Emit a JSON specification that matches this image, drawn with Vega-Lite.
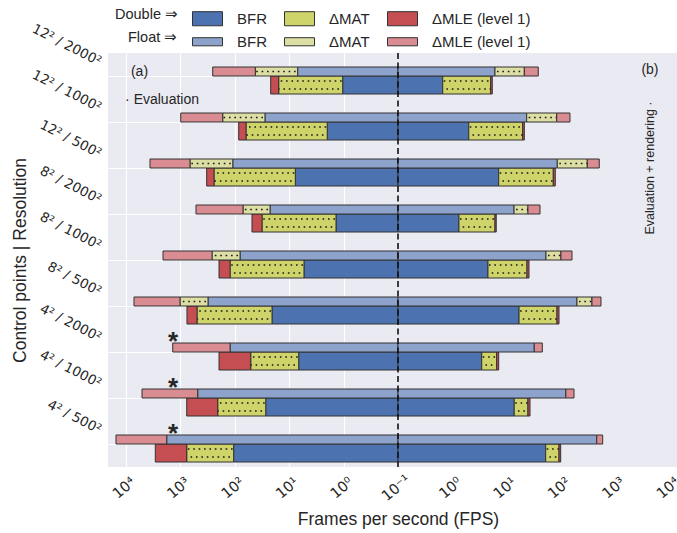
{
 "$schema": "https://vega.github.io/schema/vega-lite/v6.json",
 "autosize": {"type": "none"},
 "padding": {"left": 108, "top": 53, "right": 0, "bottom": 66},
 "background": "white",
 "width": 569,
 "height": 414,
 "config": {
  "view": {"fill": "#EAEAF2", "stroke": null},
  "font": "Liberation Sans",
  "axis": {"domain": false, "ticks": false, "grid": true, "gridColor": "#ffffff", "gridWidth": 1.1, "labelColor": "#262626", "titleColor": "#262626", "titleFontWeight": "normal"},
  "legend": {"symbolStrokeColor": "#333333", "symbolStrokeWidth": 1, "symbolOpacity": 1, "labelFont": "Liberation Sans", "labelFontSize": 15, "labelColor": "#262626", "titleFont": "Liberation Sans", "titleFontSize": 14.5, "titleFontWeight": "normal", "titleColor": "#262626", "orient": "none", "direction": "horizontal", "columns": 3, "titleOrient": "left", "titleBaseline": "middle", "labelOffset": 14, "columnPadding": 15, "titlePadding": 14, "symbolSize": 900}
 },
 "datasets": {
  "stars": [
   {"c": "4² / 2000²", "fps": 1370},
   {"c": "4² / 1000²", "fps": 1370},
   {"c": "4² / 500²", "fps": 1370}
  ],
  "bars": [
   {"c": "12² / 2000²", "p": "F", "s": "L", "part": "BFR", "lo": 0.1, "hi": 7.0},
   {"c": "12² / 2000²", "p": "F", "s": "L", "part": "ΔMAT", "lo": 7.0, "hi": 42},
   {"c": "12² / 2000²", "p": "F", "s": "L", "part": "ΔMLE (level 1)", "lo": 42, "hi": 255},
   {"c": "12² / 2000²", "p": "D", "s": "L", "part": "BFR", "lo": 0.1, "hi": 1.04},
   {"c": "12² / 2000²", "p": "D", "s": "L", "part": "ΔMAT", "lo": 1.04, "hi": 15.6},
   {"c": "12² / 2000²", "p": "D", "s": "L", "part": "ΔMLE (level 1)", "lo": 15.6, "hi": 21.9},
   {"c": "12² / 2000²", "p": "F", "s": "R", "part": "BFR", "lo": 0.1, "hi": 6.07},
   {"c": "12² / 2000²", "p": "F", "s": "R", "part": "ΔMAT", "lo": 6.07, "hi": 21.0},
   {"c": "12² / 2000²", "p": "F", "s": "R", "part": "ΔMLE (level 1)", "lo": 21.0, "hi": 37.9},
   {"c": "12² / 2000²", "p": "D", "s": "R", "part": "BFR", "lo": 0.1, "hi": 0.664},
   {"c": "12² / 2000²", "p": "D", "s": "R", "part": "ΔMAT", "lo": 0.664, "hi": 5.06},
   {"c": "12² / 2000²", "p": "D", "s": "R", "part": "ΔMLE (level 1)", "lo": 5.06, "hi": 5.41},

   {"c": "12² / 1000²", "p": "F", "s": "L", "part": "BFR", "lo": 0.1, "hi": 27.9},
   {"c": "12² / 1000²", "p": "F", "s": "L", "part": "ΔMAT", "lo": 27.9, "hi": 167},
   {"c": "12² / 1000²", "p": "F", "s": "L", "part": "ΔMLE (level 1)", "lo": 167, "hi": 986},
   {"c": "12² / 1000²", "p": "D", "s": "L", "part": "BFR", "lo": 0.1, "hi": 2.0},
   {"c": "12² / 1000²", "p": "D", "s": "L", "part": "ΔMAT", "lo": 2.0, "hi": 62.2},
   {"c": "12² / 1000²", "p": "D", "s": "L", "part": "ΔMLE (level 1)", "lo": 62.2, "hi": 84.8},
   {"c": "12² / 1000²", "p": "F", "s": "R", "part": "BFR", "lo": 0.1, "hi": 23.2},
   {"c": "12² / 1000²", "p": "F", "s": "R", "part": "ΔMAT", "lo": 23.2, "hi": 82.6},
   {"c": "12² / 1000²", "p": "F", "s": "R", "part": "ΔMLE (level 1)", "lo": 82.6, "hi": 145},
   {"c": "12² / 1000²", "p": "D", "s": "R", "part": "BFR", "lo": 0.1, "hi": 2.0},
   {"c": "12² / 1000²", "p": "D", "s": "R", "part": "ΔMAT", "lo": 2.0, "hi": 19.6},
   {"c": "12² / 1000²", "p": "D", "s": "R", "part": "ΔMLE (level 1)", "lo": 19.6, "hi": 21.0},

   {"c": "12² / 500²", "p": "F", "s": "L", "part": "BFR", "lo": 0.1, "hi": 109},
   {"c": "12² / 500²", "p": "F", "s": "L", "part": "ΔMAT", "lo": 109, "hi": 666},
   {"c": "12² / 500²", "p": "F", "s": "L", "part": "ΔMLE (level 1)", "lo": 666, "hi": 3622},
   {"c": "12² / 500²", "p": "D", "s": "L", "part": "BFR", "lo": 0.1, "hi": 7.72},
   {"c": "12² / 500²", "p": "D", "s": "L", "part": "ΔMAT", "lo": 7.72, "hi": 241},
   {"c": "12² / 500²", "p": "D", "s": "L", "part": "ΔMLE (level 1)", "lo": 241, "hi": 329},
   {"c": "12² / 500²", "p": "F", "s": "R", "part": "BFR", "lo": 0.1, "hi": 84.8},
   {"c": "12² / 500²", "p": "F", "s": "R", "part": "ΔMAT", "lo": 84.8, "hi": 302},
   {"c": "12² / 500²", "p": "F", "s": "R", "part": "ΔMLE (level 1)", "lo": 302, "hi": 501},
   {"c": "12² / 500²", "p": "D", "s": "R", "part": "BFR", "lo": 0.1, "hi": 7.1},
   {"c": "12² / 500²", "p": "D", "s": "R", "part": "ΔMAT", "lo": 7.1, "hi": 71.6},
   {"c": "12² / 500²", "p": "D", "s": "R", "part": "ΔMLE (level 1)", "lo": 71.6, "hi": 77.9},

   {"c": "8² / 2000²", "p": "F", "s": "L", "part": "BFR", "lo": 0.1, "hi": 22.5},
   {"c": "8² / 2000²", "p": "F", "s": "L", "part": "ΔMAT", "lo": 22.5, "hi": 70.7},
   {"c": "8² / 2000²", "p": "F", "s": "L", "part": "ΔMLE (level 1)", "lo": 70.7, "hi": 517},
   {"c": "8² / 2000²", "p": "D", "s": "L", "part": "BFR", "lo": 0.1, "hi": 1.38},
   {"c": "8² / 2000²", "p": "D", "s": "L", "part": "ΔMAT", "lo": 1.38, "hi": 31.6},
   {"c": "8² / 2000²", "p": "D", "s": "L", "part": "ΔMLE (level 1)", "lo": 31.6, "hi": 48.3},
   {"c": "8² / 2000²", "p": "F", "s": "R", "part": "BFR", "lo": 0.1, "hi": 13.6},
   {"c": "8² / 2000²", "p": "F", "s": "R", "part": "ΔMAT", "lo": 13.6, "hi": 24.5},
   {"c": "8² / 2000²", "p": "F", "s": "R", "part": "ΔMLE (level 1)", "lo": 24.5, "hi": 40.8},
   {"c": "8² / 2000²", "p": "D", "s": "R", "part": "BFR", "lo": 0.1, "hi": 1.32},
   {"c": "8² / 2000²", "p": "D", "s": "R", "part": "ΔMAT", "lo": 1.32, "hi": 6.07},
   {"c": "8² / 2000²", "p": "D", "s": "R", "part": "ΔMLE (level 1)", "lo": 6.07, "hi": 6.4},

   {"c": "8² / 1000²", "p": "F", "s": "L", "part": "BFR", "lo": 0.1, "hi": 80.2},
   {"c": "8² / 1000²", "p": "F", "s": "L", "part": "ΔMAT", "lo": 80.2, "hi": 262},
   {"c": "8² / 1000²", "p": "F", "s": "L", "part": "ΔMLE (level 1)", "lo": 262, "hi": 2089},
   {"c": "8² / 1000²", "p": "D", "s": "L", "part": "BFR", "lo": 0.1, "hi": 5.35},
   {"c": "8² / 1000²", "p": "D", "s": "L", "part": "ΔMAT", "lo": 5.35, "hi": 122},
   {"c": "8² / 1000²", "p": "D", "s": "L", "part": "ΔMLE (level 1)", "lo": 122, "hi": 195},
   {"c": "8² / 1000²", "p": "F", "s": "R", "part": "BFR", "lo": 0.1, "hi": 52.6},
   {"c": "8² / 1000²", "p": "F", "s": "R", "part": "ΔMAT", "lo": 52.6, "hi": 99},
   {"c": "8² / 1000²", "p": "F", "s": "R", "part": "ΔMLE (level 1)", "lo": 99, "hi": 158},
   {"c": "8² / 1000²", "p": "D", "s": "R", "part": "BFR", "lo": 0.1, "hi": 4.51},
   {"c": "8² / 1000²", "p": "D", "s": "R", "part": "ΔMAT", "lo": 4.51, "hi": 23.5},
   {"c": "8² / 1000²", "p": "D", "s": "R", "part": "ΔMLE (level 1)", "lo": 23.5, "hi": 25.6},

   {"c": "8² / 500²", "p": "F", "s": "L", "part": "BFR", "lo": 0.1, "hi": 311},
   {"c": "8² / 500²", "p": "F", "s": "L", "part": "ΔMAT", "lo": 311, "hi": 1017},
   {"c": "8² / 500²", "p": "F", "s": "L", "part": "ΔMLE (level 1)", "lo": 1017, "hi": 7130},
   {"c": "8² / 500²", "p": "D", "s": "L", "part": "BFR", "lo": 0.1, "hi": 20.7},
   {"c": "8² / 500²", "p": "D", "s": "L", "part": "ΔMAT", "lo": 20.7, "hi": 495},
   {"c": "8² / 500²", "p": "D", "s": "L", "part": "ΔMLE (level 1)", "lo": 495, "hi": 757},
   {"c": "8² / 500²", "p": "F", "s": "R", "part": "BFR", "lo": 0.1, "hi": 195},
   {"c": "8² / 500²", "p": "F", "s": "R", "part": "ΔMAT", "lo": 195, "hi": 368},
   {"c": "8² / 500²", "p": "F", "s": "R", "part": "ΔMLE (level 1)", "lo": 368, "hi": 539},
   {"c": "8² / 500²", "p": "D", "s": "R", "part": "BFR", "lo": 0.1, "hi": 16.8},
   {"c": "8² / 500²", "p": "D", "s": "R", "part": "ΔMAT", "lo": 16.8, "hi": 83.7},
   {"c": "8² / 500²", "p": "D", "s": "R", "part": "ΔMLE (level 1)", "lo": 83.7, "hi": 91.2},

   {"c": "4² / 2000²", "p": "F", "s": "L", "part": "BFR", "lo": 0.1, "hi": 122},
   {"c": "4² / 2000²", "p": "F", "s": "L", "part": "ΔMLE (level 1)", "lo": 122, "hi": 1386},
   {"c": "4² / 2000²", "p": "D", "s": "L", "part": "BFR", "lo": 0.1, "hi": 6.69},
   {"c": "4² / 2000²", "p": "D", "s": "L", "part": "ΔMAT", "lo": 6.69, "hi": 51},
   {"c": "4² / 2000²", "p": "D", "s": "L", "part": "ΔMLE (level 1)", "lo": 51, "hi": 195},
   {"c": "4² / 2000²", "p": "F", "s": "R", "part": "BFR", "lo": 0.1, "hi": 32.0},
   {"c": "4² / 2000²", "p": "F", "s": "R", "part": "ΔMLE (level 1)", "lo": 32.0, "hi": 45.0},
   {"c": "4² / 2000²", "p": "D", "s": "R", "part": "BFR", "lo": 0.1, "hi": 3.46},
   {"c": "4² / 2000²", "p": "D", "s": "R", "part": "ΔMAT", "lo": 3.46, "hi": 6.52},
   {"c": "4² / 2000²", "p": "D", "s": "R", "part": "ΔMLE (level 1)", "lo": 6.52, "hi": 7.1},

   {"c": "4² / 1000²", "p": "F", "s": "L", "part": "BFR", "lo": 0.1, "hi": 481},
   {"c": "4² / 1000²", "p": "F", "s": "L", "part": "ΔMLE (level 1)", "lo": 481, "hi": 5080},
   {"c": "4² / 1000²", "p": "D", "s": "L", "part": "BFR", "lo": 0.1, "hi": 27},
   {"c": "4² / 1000²", "p": "D", "s": "L", "part": "ΔMAT", "lo": 27, "hi": 206},
   {"c": "4² / 1000²", "p": "D", "s": "L", "part": "ΔMLE (level 1)", "lo": 206, "hi": 766},
   {"c": "4² / 1000²", "p": "F", "s": "R", "part": "BFR", "lo": 0.1, "hi": 122},
   {"c": "4² / 1000²", "p": "F", "s": "R", "part": "ΔMLE (level 1)", "lo": 122, "hi": 172},
   {"c": "4² / 1000²", "p": "D", "s": "R", "part": "BFR", "lo": 0.1, "hi": 13.7},
   {"c": "4² / 1000²", "p": "D", "s": "R", "part": "ΔMAT", "lo": 13.7, "hi": 24.5},
   {"c": "4² / 1000²", "p": "D", "s": "R", "part": "ΔMLE (level 1)", "lo": 24.5, "hi": 26.7},

   {"c": "4² / 500²", "p": "F", "s": "L", "part": "BFR", "lo": 0.1, "hi": 1786},
   {"c": "4² / 500²", "p": "F", "s": "L", "part": "ΔMLE (level 1)", "lo": 1786, "hi": 15280},
   {"c": "4² / 500²", "p": "D", "s": "L", "part": "BFR", "lo": 0.1, "hi": 105},
   {"c": "4² / 500²", "p": "D", "s": "L", "part": "ΔMAT", "lo": 105, "hi": 766},
   {"c": "4² / 500²", "p": "D", "s": "L", "part": "ΔMLE (level 1)", "lo": 766, "hi": 2893},
   {"c": "4² / 500²", "p": "F", "s": "R", "part": "BFR", "lo": 0.1, "hi": 450},
   {"c": "4² / 500²", "p": "F", "s": "R", "part": "ΔMLE (level 1)", "lo": 450, "hi": 579},
   {"c": "4² / 500²", "p": "D", "s": "R", "part": "BFR", "lo": 0.1, "hi": 51.9},
   {"c": "4² / 500²", "p": "D", "s": "R", "part": "ΔMAT", "lo": 51.9, "hi": 91.2},
   {"c": "4² / 500²", "p": "D", "s": "R", "part": "ΔMLE (level 1)", "lo": 91.2, "hi": 97.9}
  ]
 },
 "resolve": {"scale": {"x": "independent"}, "axis": {"x": "independent"}},
 "layer": [
  {
   "layer": [
    {
     "data": {"name": "bars"},
     "transform": [{"filter": "datum.s == 'L' && datum.p == 'D'"}],
     "mark": {"type": "bar", "size": 18, "yOffset": 9, "stroke": "#333333", "strokeWidth": 1},
     "encoding": {
      "x": {"field": "lo", "type": "quantitative",
       "scale": {"type": "log", "domain": [0.1, 21430], "range": [290, 0], "nice": false},
       "axis": {"orient": "bottom", "values": [1, 10, 100, 1000, 10000],
        "labelExpr": "datum.value >= 9999 ? '10⁴' : datum.value >= 999 ? '10³' : datum.value >= 99 ? '10²' : datum.value >= 9 ? '10¹' : datum.value >= 0.9 ? '10⁰' : '10⁻¹'",
        "labelAngle": -40, "labelAlign": "center", "labelBaseline": "middle", "labelPadding": 21, "labelOffset": -2,
        "labelFont": "DejaVu Sans", "labelFontSize": 14.5, "labelFlush": false, "labelOverlap": false, "labelBound": false,
        "title": "Frames per second (FPS)", "titleFont": "Liberation Sans", "titleFontSize": 17.5,
        "titleX": 290, "titleY": 52, "titleAlign": "center", "titleBaseline": "middle", "titleAngle": 0}},
      "x2": {"field": "hi"},
      "y": {"field": "c", "type": "nominal",
       "scale": {"domain": ["12² / 2000²", "12² / 1000²", "12² / 500²", "8² / 2000²", "8² / 1000²", "8² / 500²", "4² / 2000²", "4² / 1000²", "4² / 500²"], "paddingInner": 0, "paddingOuter": 0},
       "axis": {"bandPosition": 0.5, "labelAngle": 27, "labelAlign": "right", "labelBaseline": "alphabetic", "labelOffset": -10, "labelPadding": 10,
        "labelFont": "DejaVu Sans", "labelFontSize": 13.5,
        "title": "Control points | Resolution", "titleFont": "Liberation Sans", "titleFontSize": 17.5,
        "titleX": -88, "titleY": 207, "titleAngle": -90, "titleAlign": "center", "titleBaseline": "middle"}},
      "fill": {"field": "part", "type": "nominal",
       "scale": {"domain": ["BFR", "ΔMAT", "ΔMLE (level 1)"], "range": ["#4C72B0", "#CFD46A", "#C44E52"]},
       "legend": {"title": "Double ⇒", "legendX": 7, "legendY": -50, "symbolType": "M-1,-0.47L1,-0.47L1,0.47L-1,0.47Z"}}
     }
    },
    {
     "data": {"name": "bars"},
     "transform": [{"filter": "datum.s == 'L' && datum.p == 'F'"}],
     "mark": {"type": "bar", "size": 9, "yOffset": -4.5, "stroke": "#333333", "strokeWidth": 1},
     "encoding": {
      "x": {"field": "lo", "type": "quantitative"},
      "x2": {"field": "hi"},
      "y": {"field": "c", "type": "nominal"},
      "color": {"field": "part", "type": "nominal",
       "scale": {"range": ["#8DA3CB", "#DCDEA3", "#D98C92"]},
       "legend": {"title": "Float ⇒", "legendX": 20, "legendY": -27, "symbolType": "M-1,-0.27L1,-0.27L1,0.27L-1,0.27Z"}}
     }
    },
    {
     "data": {"name": "bars"},
     "transform": [{"filter": "datum.s == 'L' && datum.p == 'D' && datum.part == 'ΔMAT'"}],
     "mark": {"type": "rule", "yOffset": 5, "strokeDash": [1.6, 3.8], "strokeDashOffset": 4.4, "strokeWidth": 1.6, "color": "#1a1a1a"},
     "encoding": {"x": {"field": "lo", "type": "quantitative"}, "x2": {"field": "hi"}, "y": {"field": "c", "type": "nominal"}}
    },
    {
     "data": {"name": "bars"},
     "transform": [{"filter": "datum.s == 'L' && datum.p == 'D' && datum.part == 'ΔMAT'"}],
     "mark": {"type": "rule", "yOffset": 13, "strokeDash": [1.6, 3.8], "strokeDashOffset": 1.7, "strokeWidth": 1.6, "color": "#1a1a1a"},
     "encoding": {"x": {"field": "lo", "type": "quantitative"}, "x2": {"field": "hi"}, "y": {"field": "c", "type": "nominal"}}
    },
    {
     "data": {"name": "bars"},
     "transform": [{"filter": "datum.s == 'L' && datum.p == 'F' && datum.part == 'ΔMAT'"}],
     "mark": {"type": "rule", "yOffset": -4.5, "strokeDash": [1.6, 3.8], "strokeDashOffset": 3.4, "strokeWidth": 1.6, "color": "#1a1a1a"},
     "encoding": {"x": {"field": "lo", "type": "quantitative"}, "x2": {"field": "hi"}, "y": {"field": "c", "type": "nominal"}}
    },
    {
     "data": {"name": "stars"},
     "mark": {"type": "text", "text": "*", "fontSize": 26, "fontWeight": "bold", "baseline": "alphabetic", "align": "center", "dy": -2, "color": "#262626", "font": "Liberation Sans"},
     "encoding": {"x": {"field": "fps", "type": "quantitative"}, "y": {"field": "c", "type": "nominal"}}
    },
    {
     "data": {"values": [{}]},
     "mark": {"type": "text", "text": "(a)", "fontSize": 14, "align": "center", "baseline": "middle", "dy": -4, "color": "#262626", "font": "Liberation Sans"},
     "encoding": {"x": {"datum": 5650, "type": "quantitative"}, "y": {"datum": "12² / 2000²", "type": "nominal"}}
    },
    {
     "data": {"values": [{}]},
     "mark": {"type": "text", "text": "· Evaluation", "fontSize": 14, "align": "left", "baseline": "middle", "dy": 24, "color": "#262626", "font": "Liberation Sans"},
     "encoding": {"x": {"datum": 10400, "type": "quantitative"}, "y": {"datum": "12² / 2000²", "type": "nominal"}}
    }
   ]
  },
  {
   "layer": [
    {
     "data": {"name": "bars"},
     "transform": [{"filter": "datum.s == 'R' && datum.p == 'D'"}],
     "mark": {"type": "bar", "size": 18, "yOffset": 9, "stroke": "#333333", "strokeWidth": 1},
     "encoding": {
      "x": {"field": "lo", "type": "quantitative",
       "scale": {"type": "log", "domain": [0.1, 13460], "range": [290, 569], "nice": false},
       "axis": {"orient": "bottom", "values": [0.1, 1, 10, 100, 1000, 10000],
        "labelExpr": "datum.value >= 9999 ? '10⁴' : datum.value >= 999 ? '10³' : datum.value >= 99 ? '10²' : datum.value >= 9 ? '10¹' : datum.value >= 0.9 ? '10⁰' : '10⁻¹'",
        "labelAngle": -40, "labelAlign": "center", "labelBaseline": "middle", "labelPadding": 21, "labelOffset": -2,
        "labelFont": "DejaVu Sans", "labelFontSize": 14.5, "labelFlush": false, "labelOverlap": false, "labelBound": false,
        "title": null}},
      "x2": {"field": "hi"},
      "y": {"field": "c", "type": "nominal"},
      "fill": {"field": "part", "type": "nominal"}
     }
    },
    {
     "data": {"name": "bars"},
     "transform": [{"filter": "datum.s == 'R' && datum.p == 'F'"}],
     "mark": {"type": "bar", "size": 9, "yOffset": -4.5, "stroke": "#333333", "strokeWidth": 1},
     "encoding": {
      "x": {"field": "lo", "type": "quantitative"},
      "x2": {"field": "hi"},
      "y": {"field": "c", "type": "nominal"},
      "color": {"field": "part", "type": "nominal"}
     }
    },
    {
     "data": {"name": "bars"},
     "transform": [{"filter": "datum.s == 'R' && datum.p == 'D' && datum.part == 'ΔMAT'"}],
     "mark": {"type": "rule", "yOffset": 5, "strokeDash": [1.6, 3.8], "strokeDashOffset": 4.4, "strokeWidth": 1.6, "color": "#1a1a1a"},
     "encoding": {"x": {"field": "lo", "type": "quantitative"}, "x2": {"field": "hi"}, "y": {"field": "c", "type": "nominal"}}
    },
    {
     "data": {"name": "bars"},
     "transform": [{"filter": "datum.s == 'R' && datum.p == 'D' && datum.part == 'ΔMAT'"}],
     "mark": {"type": "rule", "yOffset": 13, "strokeDash": [1.6, 3.8], "strokeDashOffset": 1.7, "strokeWidth": 1.6, "color": "#1a1a1a"},
     "encoding": {"x": {"field": "lo", "type": "quantitative"}, "x2": {"field": "hi"}, "y": {"field": "c", "type": "nominal"}}
    },
    {
     "data": {"name": "bars"},
     "transform": [{"filter": "datum.s == 'R' && datum.p == 'F' && datum.part == 'ΔMAT'"}],
     "mark": {"type": "rule", "yOffset": -4.5, "strokeDash": [1.6, 3.8], "strokeDashOffset": 3.4, "strokeWidth": 1.6, "color": "#1a1a1a"},
     "encoding": {"x": {"field": "lo", "type": "quantitative"}, "x2": {"field": "hi"}, "y": {"field": "c", "type": "nominal"}}
    },
    {
     "data": {"values": [{}]},
     "mark": {"type": "text", "text": "(b)", "fontSize": 14, "align": "center", "baseline": "middle", "dy": -6, "color": "#262626", "font": "Liberation Sans"},
     "encoding": {"x": {"datum": 4290, "type": "quantitative"}, "y": {"datum": "12² / 2000²", "type": "nominal"}}
    },
    {
     "data": {"values": [{}]},
     "mark": {"type": "text", "text": "Evaluation + rendering ·", "fontSize": 12.5, "angle": 270, "align": "center", "baseline": "middle", "color": "#262626", "font": "Liberation Sans"},
     "encoding": {"x": {"datum": 4290, "type": "quantitative"}, "y": {"datum": "12² / 500²", "type": "nominal"}}
    },
    {
     "data": {"values": [{}]},
     "mark": {"type": "rule", "strokeDash": [6, 3.5], "strokeWidth": 1.6, "color": "#111111"},
     "encoding": {"x": {"datum": 0.1, "type": "quantitative"}}
    }
   ]
  }
 ]
}
